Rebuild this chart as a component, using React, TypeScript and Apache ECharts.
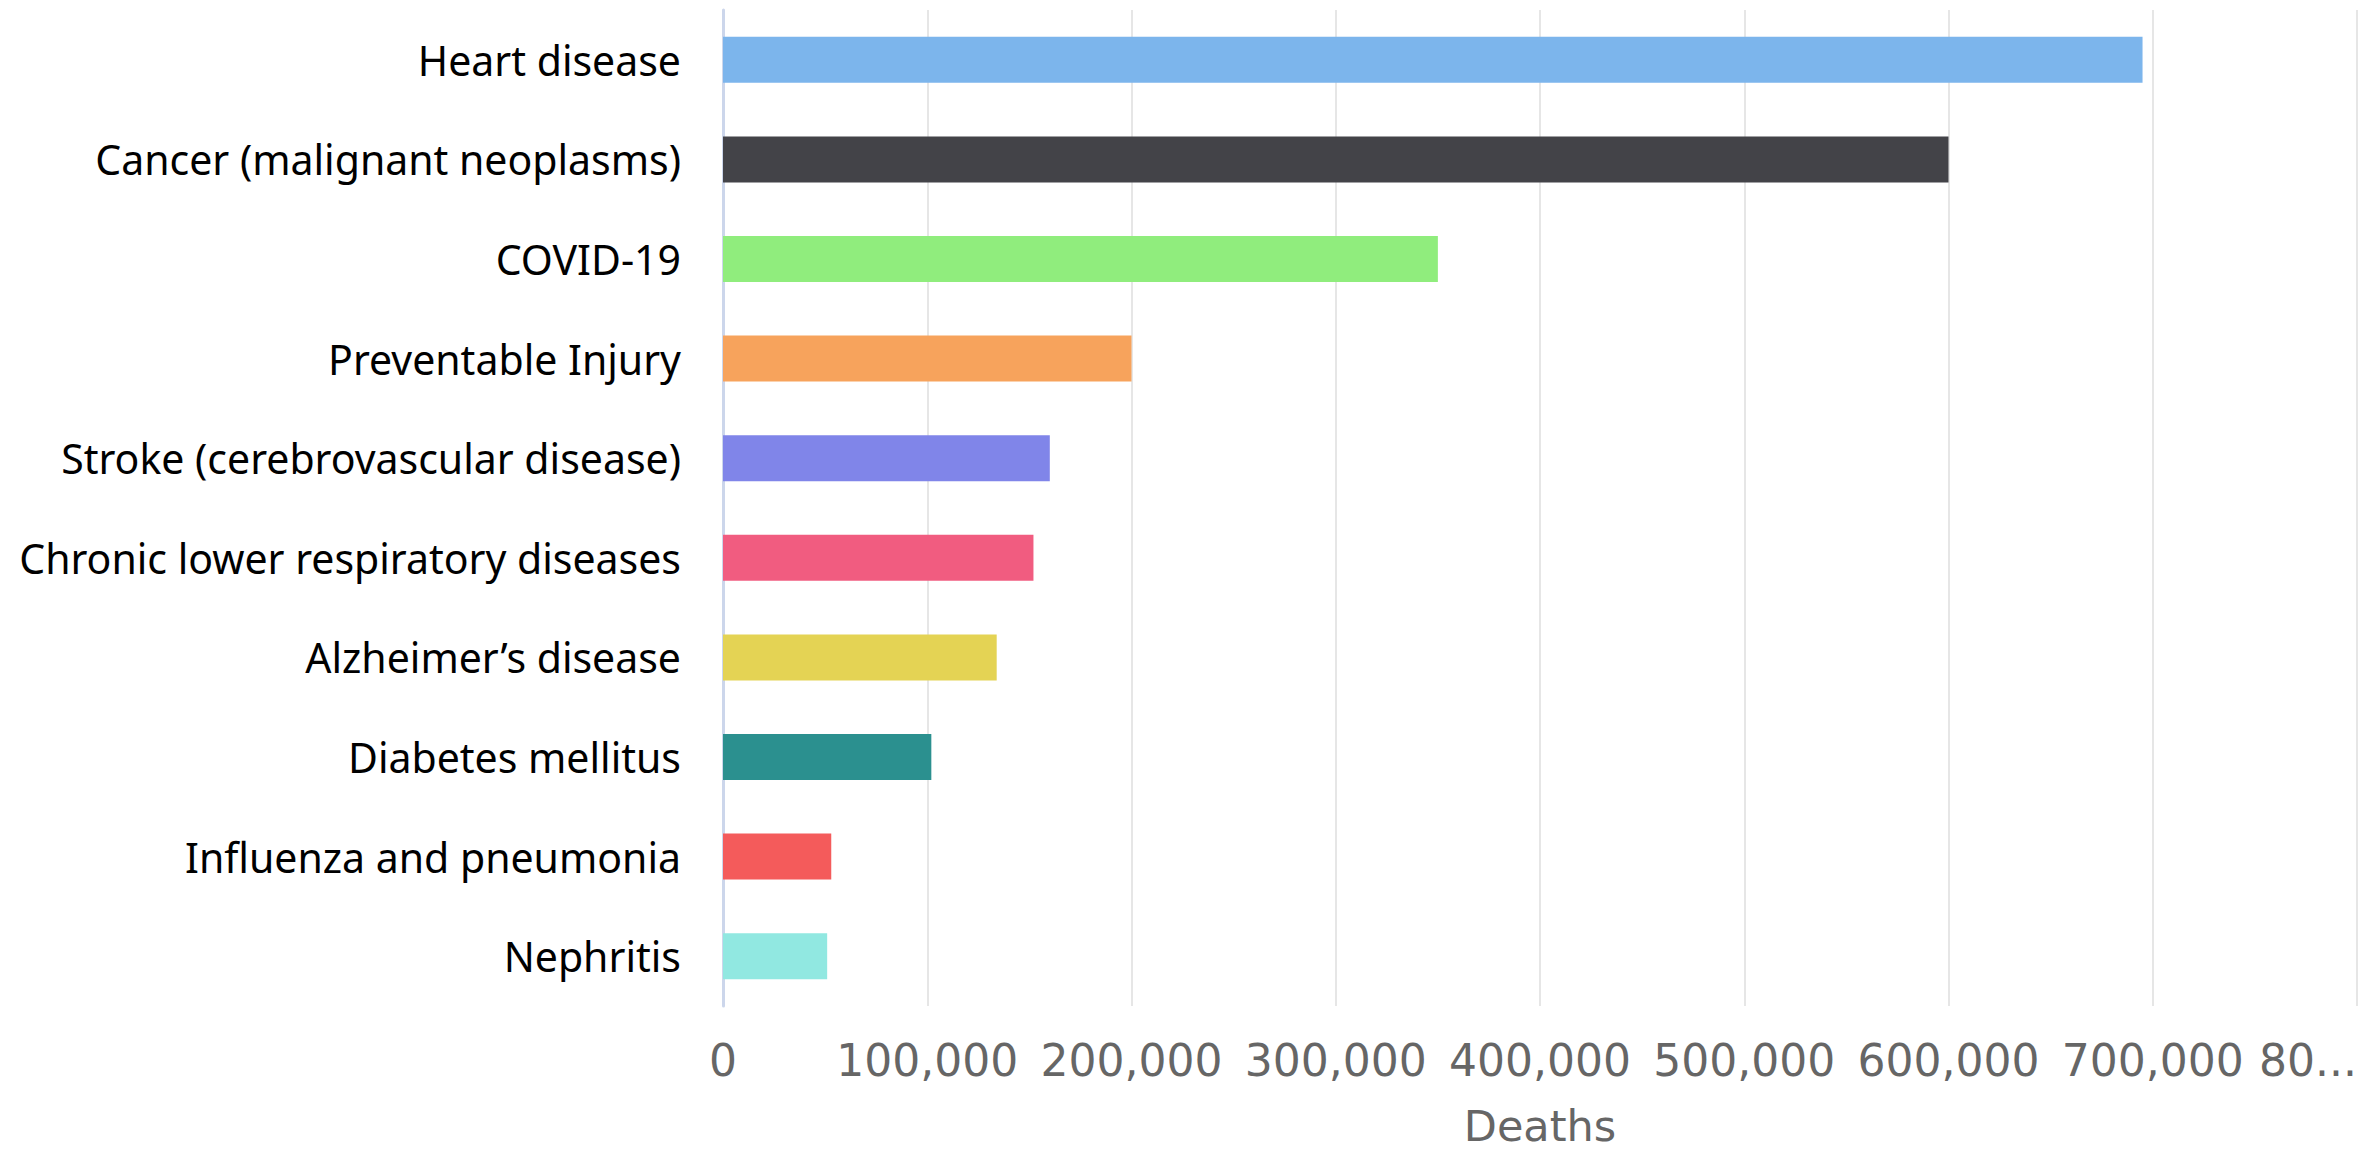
import React, { useEffect, useRef } from "react";
import * as echarts from "echarts";

const categories = [
  "Heart disease",
  "Cancer (malignant neoplasms)",
  "COVID-19",
  "Preventable Injury",
  "Stroke (cerebrovascular disease)",
  "Chronic lower respiratory diseases",
  "Alzheimer\u2019s disease",
  "Diabetes mellitus",
  "Influenza and pneumonia",
  "Nephritis",
];
const deaths = [695000, 600000, 350000, 200000, 160000, 152000, 134000, 102000, 53000, 51000];
const barColors = [
  "#7cb5ec", "#434348", "#90ed7d", "#f7a35c", "#8085e9",
  "#f15c80", "#e4d354", "#2b908f", "#f45b5b", "#91e8e1",
];
const xMin = 0;
const xMax = 800000;
const xInterval = 100000;
const xAxisName = "Deaths";

export default function App() {
  const ref = useRef<HTMLDivElement>(null);
  useEffect(() => {
    document.body.style.margin = "0";
    const chart = echarts.init(ref.current!, null, { renderer: "svg" });
    chart.setOption({
      animation: false,
      backgroundColor: "#ffffff",
      grid: { left: 723, right: 15, top: 10, bottom: 136, containLabel: false },
      xAxis: {
        type: "value",
        min: xMin,
        max: xMax,
        interval: xInterval,
        name: xAxisName,
        nameLocation: "middle",
        nameGap: 98,
        nameTextStyle: { fontFamily: "DejaVu Sans", fontSize: 43, color: "#666666" },
        axisLine: { show: false },
        axisTick: { show: false },
        splitLine: { show: true, lineStyle: { color: "#e6e6e6", width: 2 } },
        axisLabel: {
          fontFamily: "DejaVu Sans",
          fontSize: 44,
          color: "#666666",
          margin: 32,
          alignMaxLabel: "right",
          formatter: (v: number) =>
            v === xMax ? "80..." : v.toLocaleString("en-US"),
        },
      },
      yAxis: {
        type: "category",
        data: categories,
        inverse: true,
        axisLine: { show: true, lineStyle: { color: "#ccd6eb", width: 3 } },
        axisTick: { show: false },
        splitLine: { show: false },
        axisLabel: {
          fontFamily: "Noto Sans",
          fontSize: 41,
          color: "#000000",
          margin: 42,
        },
      },
      series: [
        {
          type: "bar",
          data: deaths.map((v, i) => ({ value: v, itemStyle: { color: barColors[i] } })),
          barWidth: 46,
        },
      ],
    });
    return () => chart.dispose();
  }, []);
  return <div ref={ref} style={{ width: 2372, height: 1152 }} />;
}
